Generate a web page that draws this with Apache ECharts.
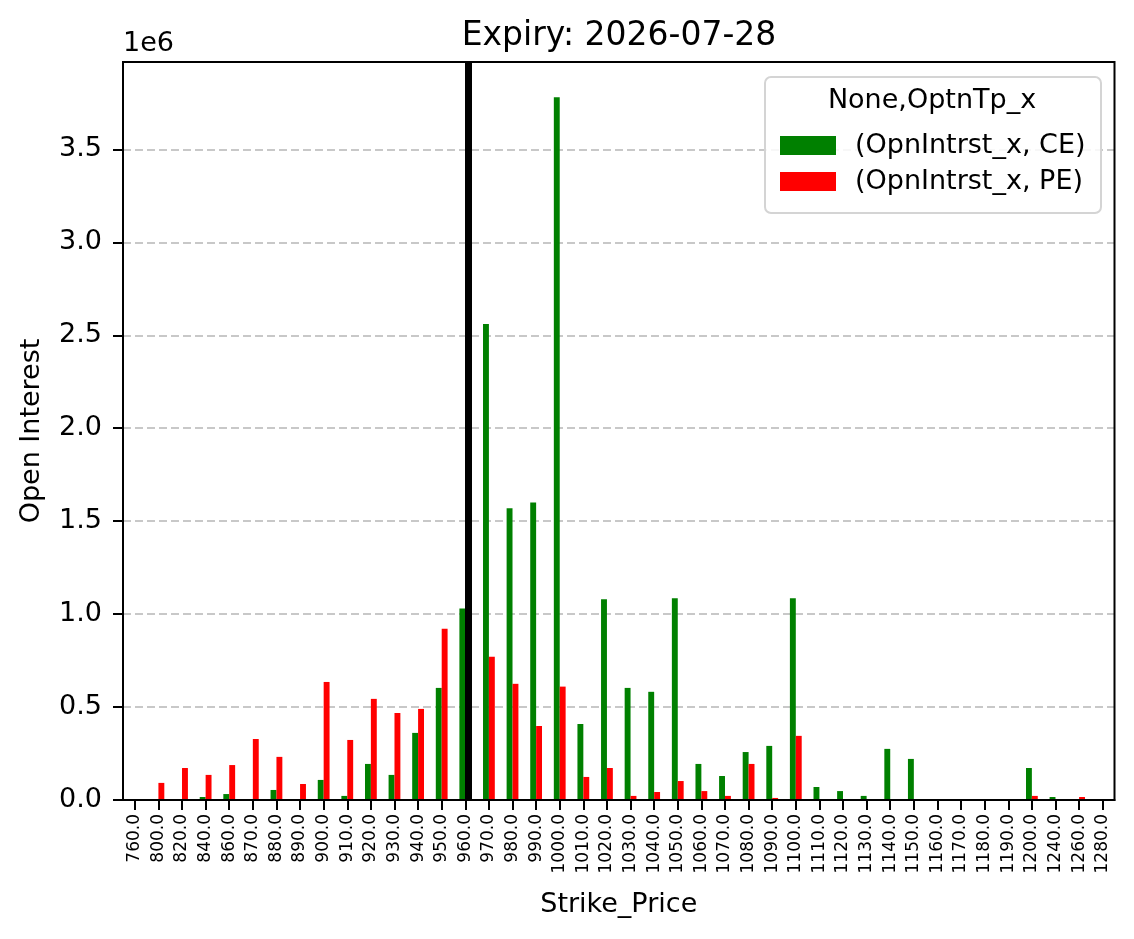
<!DOCTYPE html>
<html>
<head>
<meta charset="utf-8">
<title>Expiry: 2026-07-28</title>
<script src="https://cdn.jsdelivr.net/npm/echarts@6/dist/echarts.min.js"></script>
<style>
  html, body { margin: 0; padding: 0; background: #fff; }
  #chart { width: 1134px; height: 939px; }
</style>
</head>
<body>
<div id="chart"></div>
<script>
// strike prices (x categories)
const strikes = [
  "760.0", "800.0", "820.0", "840.0", "860.0", "870.0", "880.0", "890.0",
  "900.0", "910.0", "920.0", "930.0", "940.0", "950.0", "960.0", "970.0",
  "980.0", "990.0", "1000.0", "1010.0", "1020.0", "1030.0", "1040.0", "1050.0",
  "1060.0", "1070.0", "1080.0", "1090.0", "1100.0", "1110.0", "1120.0", "1130.0",
  "1140.0", "1150.0", "1160.0", "1170.0", "1180.0", "1190.0", "1200.0", "1240.0",
  "1260.0", "1280.0"
];
// open interest, calls
const ceOI = [
  0, 0, 0, 16000, 32000, 0, 54000, 0,
  108000, 22000, 194000, 135000, 361000, 603000, 1030000, 2560000,
  1570000, 1600000, 3780000, 409000, 1080000, 603000, 582000, 1085000,
  194000, 129000, 258000, 291000, 1085000, 70000, 48000, 22000,
  275000, 221000, 0, 0, 0, 0, 172000, 16000,
  0, 5000
];
// open interest, puts
const peOI = [
  0, 92000, 172000, 135000, 188000, 328000, 232000, 86000,
  635000, 323000, 544000, 468000, 490000, 921000, 1230000, 770000,
  625000, 398000, 610000, 124000, 172000, 22000, 43000, 102000,
  48000, 22000, 194000, 11000, 345000, 0, 0, 0,
  0, 5000, 0, 0, 0, 0, 22000, 0,
  16000, 0
];
const seriesNames = ["(OpnIntrst_x, CE)", "(OpnIntrst_x, PE)"];
const legendTitle = "None,OptnTp_x";
const atmStrike = "960.0"; // vertical marker
const yTicks = { min: 0, max: 3970000, step: 500000 };

const font = "DejaVu Sans";
const chart = echarts.init(document.getElementById("chart"));

const option = {
  animation: false,
  backgroundColor: "#fff",
  textStyle: { fontFamily: font },
  title: {
    text: "Expiry: 2026-07-28",
    left: 619,
    top: 20,
    textAlign: "center",
    padding: 0,
    textStyle: { fontFamily: font, fontSize: 33, fontWeight: "normal", color: "#000" }
  },
  grid: {
    left: 123,
    right: 19.5,
    top: 62,
    bottom: 139,
    show: false
  },
  legend: {
    orient: "vertical",
    left: 775,
    top: 127,
    itemWidth: 56,
    itemHeight: 19,
    itemGap: 9,
    icon: "rect",
    z: 6,
    data: seriesNames,
    textStyle: {
      fontFamily: font,
      fontSize: 27,
      color: "#000",
      padding: [0, 0, 0, 14]
    }
  },
  graphic: [
    {
      // axes frame
      type: "rect",
      z: 5,
      silent: true,
      shape: { x: 123, y: 62, width: 991.5, height: 738 },
      style: { fill: null, stroke: "#000", lineWidth: 2 }
    },
    {
      type: "rect",
      z: 5,
      shape: { x: 765, y: 77, width: 336, height: 136, r: 6 },
      style: { fill: "rgba(255,255,255,0.85)", stroke: "#d4d4d4", lineWidth: 2 }
    },
    {
      type: "text",
      z: 6,
      x: 932,
      y: 101,
      style: {
        text: legendTitle,
        fontFamily: font,
        fontSize: 27,
        fill: "#000",
        textAlign: "center",
        textVerticalAlign: "middle"
      }
    },
    {
      // scale factor of the y axis
      type: "text",
      z: 6,
      x: 123,
      y: 44,
      style: {
        text: "1e6",
        fontFamily: font,
        fontSize: 27,
        fill: "#000",
        textAlign: "left",
        textVerticalAlign: "middle"
      }
    }
  ],
  xAxis: {
    type: "category",
    data: strikes,
    name: "Strike_Price",
    nameLocation: "middle",
    nameGap: 91,
    nameTextStyle: { fontFamily: font, fontSize: 27, color: "#000" },
    axisLine: { show: true, lineStyle: { color: "#000", width: 2 } },
    axisTick: { show: true, alignWithLabel: true, interval: 0, length: 10, lineStyle: { color: "#000", width: 2 } },
    axisLabel: { interval: 0, rotate: 90, fontSize: 17, color: "#000", margin: 14, fontFamily: font },
    splitLine: { show: false }
  },
  yAxis: {
    type: "value",
    min: yTicks.min,
    max: yTicks.max,
    interval: yTicks.step,
    name: "Open Interest",
    nameLocation: "middle",
    nameGap: 78,
    nameTextStyle: { fontFamily: font, fontSize: 27, color: "#000" },
    axisLine: { show: true, lineStyle: { color: "#000", width: 2 } },
    axisTick: { show: true, length: 10, lineStyle: { color: "#000", width: 2 } },
    axisLabel: {
      fontSize: 27,
      color: "#000",
      margin: 21,
      fontFamily: font,
      showMaxLabel: false,
      formatter: (v) => (v / 1e6).toFixed(1)
    },
    splitLine: {
      show: true,
      showMinLine: false,
      showMaxLine: false,
      lineStyle: { color: "#c8c8c8", width: 1.8, type: [8, 4] }
    }
  },
  series: [
    {
      name: seriesNames[0],
      type: "bar",
      data: ceOI,
      barWidth: "25%",
      barGap: "0%",
      itemStyle: { color: "#008000" }
    },
    {
      name: seriesNames[1],
      type: "bar",
      data: peOI,
      barWidth: "25%",
      barGap: "0%",
      itemStyle: { color: "#ff0000" },
      markLine: {
        silent: true,
        symbol: "none",
        label: { show: false },
        lineStyle: { color: "#000", width: 7, type: "solid" },
        data: [{ xAxis: atmStrike }]
      }
    }
  ]
};

chart.setOption(option);
window.addEventListener("resize", () => {
  chart.resize();
});
</script>
</body>
</html>
